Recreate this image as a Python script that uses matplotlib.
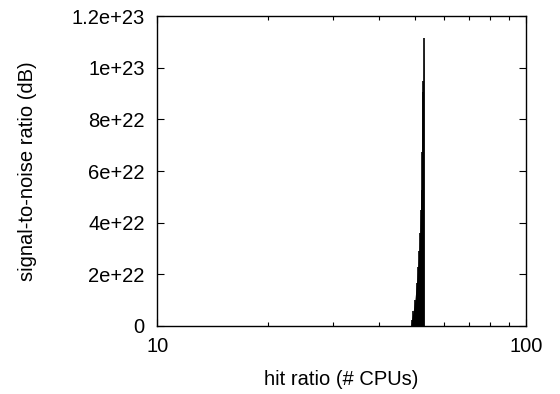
import matplotlib
matplotlib.use("Agg")
import matplotlib.pyplot as plt
from matplotlib.ticker import FixedLocator, NullFormatter

plt.rcParams['font.family'] = ['Liberation Sans', 'DejaVu Sans']

# data
cpus = [48.75, 48.96, 49.5, 49.99, 50.5, 50.93, 51.3, 51.57, 51.8, 52.1, 52.3, 52.55, 52.7, 52.9]
snr = [0.0, 0.023e23, 0.06e23, 0.10e23, 0.165e23, 0.228e23, 0.29e23, 0.36e23, 0.45e23,
       0.527e23, 0.674e23, 0.906e23, 0.95e23, 1.115e23]

yticks = [0, 2e22, 4e22, 6e22, 8e22, 1e23, 1.2e23]
ytick_labels = ['0', '2e+22', '4e+22', '6e+22', '8e+22', '1e+23', '1.2e+23']
xticks = [10, 100]
xtick_labels = ['10', '100']

fs = 14.5
fig = plt.figure(figsize=(5.6, 3.94), dpi=100)
ax = fig.add_axes([0.281, 0.1726, 0.939 - 0.281, 0.959 - 0.1726])

ax.fill_between(cpus, 0, snr, color='black', linewidth=0)
ax.vlines(cpus, 0, snr, color='black', linewidth=1.2)

ax.set_xscale('log')
ax.set_xlim(10, 100)
ax.set_ylim(0, 1.2e23)
ax.set_xticks(xticks)
ax.set_xticklabels(xtick_labels)
ax.xaxis.set_minor_locator(FixedLocator([20, 30, 40, 50, 60, 70, 80, 90]))
ax.xaxis.set_minor_formatter(NullFormatter())
ax.set_yticks(yticks)
ax.set_yticklabels(ytick_labels)

ax.tick_params(which='both', direction='in', top=True, right=True, labelsize=fs, color='black')
ax.tick_params(which='major', length=5, width=0.8)
ax.tick_params(which='minor', length=3, width=0.8)
ax.tick_params(axis='x', which='major', pad=8)
ax.tick_params(axis='y', which='major', pad=9)
for s in ax.spines.values():
    s.set_linewidth(1.0)

ax.set_xlabel('hit ratio (# CPUs)', fontsize=fs, labelpad=10)
ax.set_ylabel('signal-to-noise ratio (dB)', fontsize=fs, labelpad=25)

fig.savefig('out.png', dpi=100)
